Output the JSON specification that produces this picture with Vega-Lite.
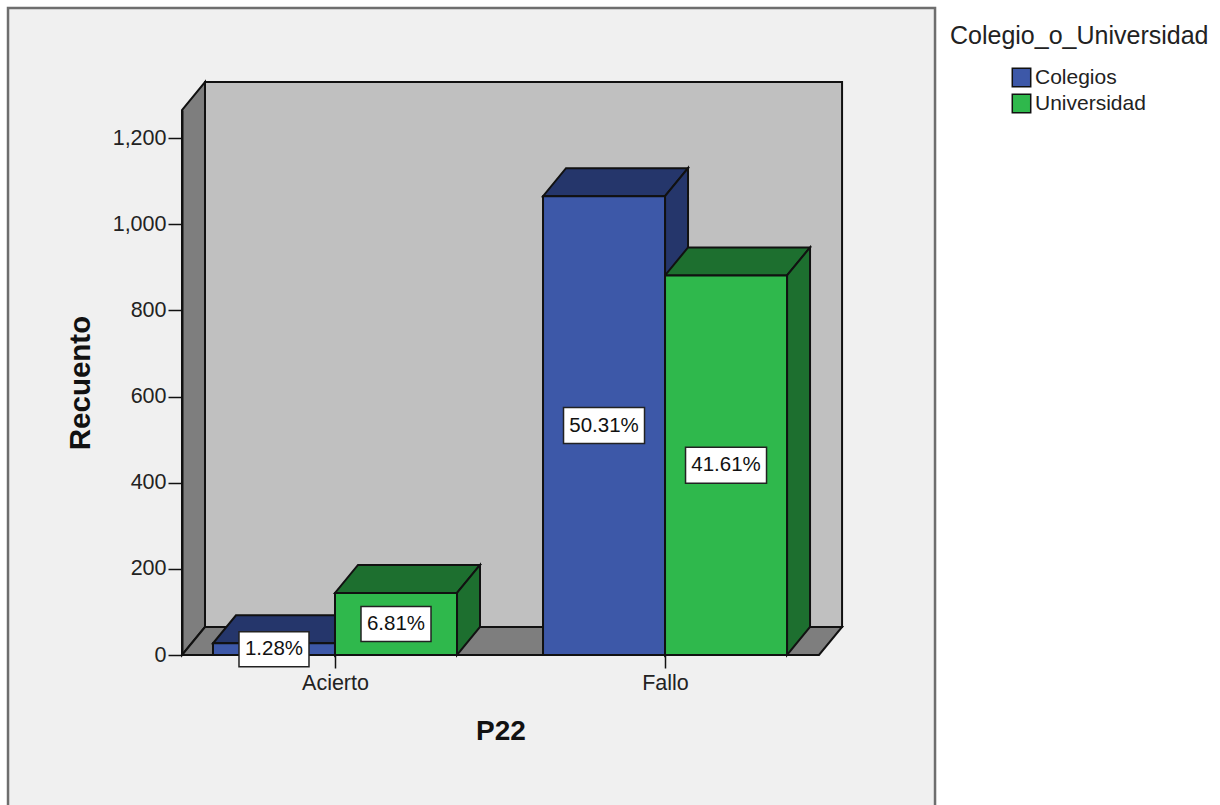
{"$schema":"https://vega.github.io/schema/vega-lite/v6.json","width":637,"height":545,"autosize":"none","padding":{"left":182,"top":110,"right":401,"bottom":150},"background":"#ffffff","config":{"view":{"stroke":null},"font":"Liberation Sans"},
"datasets":{"panel":[{"u0":-2.68,"u1":4.918,"c0":-360,"c1":1502}],
"bars":[{"P22":"Acierto","Colegio_o_Universidad":"Colegios","x0":-1,"x1":0,"Recuento":27,"pct":"1.28%"},{"P22":"Acierto","Colegio_o_Universidad":"Universidad","x0":0,"x1":1,"Recuento":144,"pct":"6.81%"},{"P22":"Fallo","Colegio_o_Universidad":"Colegios","x0":1.705,"x1":2.705,"Recuento":1065,"pct":"50.31%"},{"P22":"Fallo","Colegio_o_Universidad":"Universidad","x0":2.705,"x1":3.705,"Recuento":881,"pct":"41.61%"}],
"faces":[
{"face":"01 back","tone":"back","k":1,"u":-1.0656,"c":65},{"face":"01 back","tone":"back","k":2,"u":4.156,"c":65},{"face":"01 back","tone":"back","k":3,"u":4.156,"c":1330},{"face":"01 back","tone":"back","k":4,"u":-1.0656,"c":1330},
{"face":"02 left","tone":"wall","k":1,"u":-1.254,"c":0},{"face":"02 left","tone":"wall","k":2,"u":-1.254,"c":1265},{"face":"02 left","tone":"wall","k":3,"u":-1.0656,"c":1330},{"face":"02 left","tone":"wall","k":4,"u":-1.0656,"c":65},
{"face":"03 floor","tone":"wall","k":1,"u":-1.254,"c":0},{"face":"03 floor","tone":"wall","k":2,"u":3.967,"c":0},{"face":"03 floor","tone":"wall","k":3,"u":4.156,"c":65},{"face":"03 floor","tone":"wall","k":4,"u":-1.0656,"c":65},
{"face":"04 CA top","tone":"Colegios","k":1,"u":-1,"c":27},{"face":"04 CA top","tone":"Colegios","k":2,"u":0,"c":27},{"face":"04 CA top","tone":"Colegios","k":3,"u":0.1885,"c":92},{"face":"04 CA top","tone":"Colegios","k":4,"u":-0.8115,"c":92},
{"face":"05 CA side","tone":"Colegios","k":1,"u":0,"c":0},{"face":"05 CA side","tone":"Colegios","k":2,"u":0,"c":27},{"face":"05 CA side","tone":"Colegios","k":3,"u":0.1885,"c":92},{"face":"05 CA side","tone":"Colegios","k":4,"u":0.1885,"c":65},
{"face":"06 UA top","tone":"Universidad","k":1,"u":0,"c":144},{"face":"06 UA top","tone":"Universidad","k":2,"u":1,"c":144},{"face":"06 UA top","tone":"Universidad","k":3,"u":1.1885,"c":209},{"face":"06 UA top","tone":"Universidad","k":4,"u":0.1885,"c":209},
{"face":"07 UA side","tone":"Universidad","k":1,"u":1,"c":0},{"face":"07 UA side","tone":"Universidad","k":2,"u":1,"c":144},{"face":"07 UA side","tone":"Universidad","k":3,"u":1.1885,"c":209},{"face":"07 UA side","tone":"Universidad","k":4,"u":1.1885,"c":65},
{"face":"08 CF top","tone":"Colegios","k":1,"u":1.705,"c":1065},{"face":"08 CF top","tone":"Colegios","k":2,"u":2.705,"c":1065},{"face":"08 CF top","tone":"Colegios","k":3,"u":2.8935,"c":1130},{"face":"08 CF top","tone":"Colegios","k":4,"u":1.8935,"c":1130},
{"face":"09 CF side","tone":"Colegios","k":1,"u":2.705,"c":0},{"face":"09 CF side","tone":"Colegios","k":2,"u":2.705,"c":1065},{"face":"09 CF side","tone":"Colegios","k":3,"u":2.8935,"c":1130},{"face":"09 CF side","tone":"Colegios","k":4,"u":2.8935,"c":65},
{"face":"10 UF top","tone":"Universidad","k":1,"u":2.705,"c":881},{"face":"10 UF top","tone":"Universidad","k":2,"u":3.705,"c":881},{"face":"10 UF top","tone":"Universidad","k":3,"u":3.8935,"c":946},{"face":"10 UF top","tone":"Universidad","k":4,"u":2.8935,"c":946},
{"face":"11 UF side","tone":"Universidad","k":1,"u":3.705,"c":0},{"face":"11 UF side","tone":"Universidad","k":2,"u":3.705,"c":881},{"face":"11 UF side","tone":"Universidad","k":3,"u":3.8935,"c":946},{"face":"11 UF side","tone":"Universidad","k":4,"u":3.8935,"c":65}
]},
"layer":[
{"data":{"name":"panel"},"mark":{"type":"rect","fill":"#f0f0f0","stroke":"#6e6e6e","strokeWidth":2.5,"clip":false},
"encoding":{"x":{"field":"u0","type":"quantitative","scale":{"domain":[-1.254,3.967],"nice":false,"zero":false},"title":"P22","axis":{"values":[0,2.705],"labelExpr":"datum.value < 1 ? 'Acierto' : 'Fallo'","domain":false,"grid":false,"tickColor":"#111111","tickSize":13,"tickWidth":1.5,"labelFontSize":21.5,"labelColor":"#222222","labelPadding":4,"titleFontSize":28,"titleFontWeight":"bold","titleColor":"#111111","titlePadding":24,"zindex":1,"labelFlush":false,"labelOverlap":false}},"x2":{"field":"u1"},
"y":{"field":"c0","type":"quantitative","scale":{"domain":[0,1265],"nice":false,"zero":false},"title":"Recuento","axis":{"values":[0,200,400,600,800,1000,1200],"labelExpr":"format(datum.value, ',')","domain":true,"domainColor":"#111111","domainWidth":2,"grid":false,"tickColor":"#111111","tickSize":14,"tickWidth":1.5,"labelFontSize":21.5,"labelColor":"#222222","labelPadding":2,"titleFontSize":29.5,"titleFontWeight":"bold","titleColor":"#111111","titlePadding":17,"zindex":1,"labelOverlap":false}},"y2":{"field":"c1"}}},
{"data":{"name":"faces"},"mark":{"type":"line","interpolate":"linear-closed","stroke":"#111111","strokeWidth":2,"strokeJoin":"miter","clip":false},
"encoding":{"x":{"field":"u","type":"quantitative","title":"P22"},"y":{"field":"c","type":"quantitative","title":"Recuento"},"detail":{"field":"face"},"order":{"field":"k","type":"quantitative"},
"fill":{"field":"tone","type":"nominal","legend":null,"scale":{"domain":["back","wall","Colegios","Universidad"],"range":["#c0c0c0","#7e7e7e","#25366b","#1d6f2f"]}}}},
{"data":{"name":"bars"},"mark":{"type":"rect","stroke":"#111111","strokeWidth":2},
"encoding":{"x":{"field":"x0","type":"quantitative","title":"P22"},"x2":{"field":"x1"},"y":{"field":"Recuento","type":"quantitative","title":"Recuento"},"y2":{"datum":0},
"color":{"field":"Colegio_o_Universidad","type":"nominal","scale":{"domain":["Colegios","Universidad"],"range":["#3d58a8","#2fb84c"]},"legend":{"title":"Colegio_o_Universidad","orient":"none","legendX":768,"legendY":-86,"titleFontSize":25,"titleFontWeight":"normal","titleColor":"#222222","titleLimit":400,"titlePadding":18,"labelFontSize":21,"labelColor":"#222222","symbolType":"square","symbolSize":340,"symbolStrokeColor":"#111111","symbolStrokeWidth":1.5,"symbolOffset":61,"labelOffset":3,"rowPadding":1}}}},
{"data":{"name":"bars"},"transform":[{"filter":"datum.Recuento < 500"},{"calculate":"datum.x0 + 0.5","as":"xm"},{"calculate":"datum.Recuento / 2","as":"ym"}],"mark":{"type":"rect","width":70,"height":35,"fill":"#ffffff","stroke":"#222222","strokeWidth":1.5,"clip":false},
"encoding":{"x":{"field":"xm","type":"quantitative","title":"P22"},"y":{"field":"ym","type":"quantitative","title":"Recuento"}}},
{"data":{"name":"bars"},"transform":[{"filter":"datum.Recuento >= 500"},{"calculate":"datum.x0 + 0.5","as":"xm"},{"calculate":"datum.Recuento / 2","as":"ym"}],"mark":{"type":"rect","width":81,"height":36,"fill":"#ffffff","stroke":"#222222","strokeWidth":1.5,"clip":false},
"encoding":{"x":{"field":"xm","type":"quantitative","title":"P22"},"y":{"field":"ym","type":"quantitative","title":"Recuento"}}},
{"data":{"name":"bars"},"transform":[{"calculate":"datum.x0 + 0.5","as":"xm"},{"calculate":"datum.Recuento / 2","as":"ym"}],"mark":{"type":"text","fontSize":20.5,"color":"#111111","align":"center","baseline":"middle","clip":false},
"encoding":{"x":{"field":"xm","type":"quantitative","title":"P22"},"y":{"field":"ym","type":"quantitative","title":"Recuento"},"text":{"field":"pct"}}}
]}
